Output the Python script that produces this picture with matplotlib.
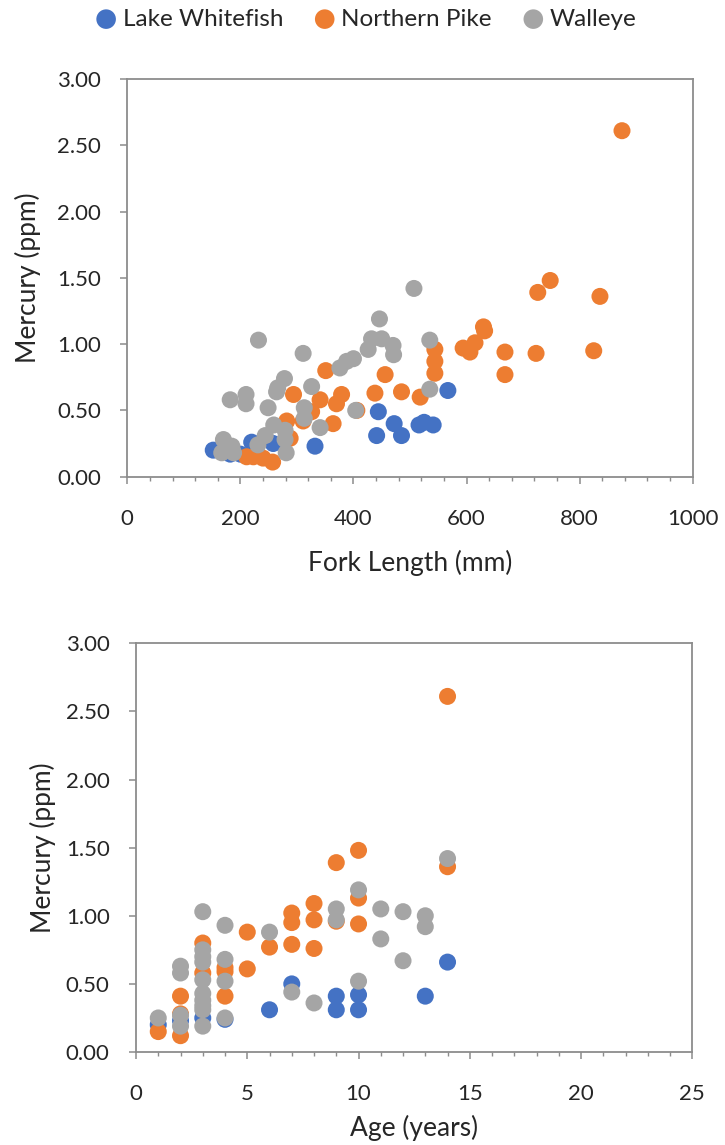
import numpy as np
import matplotlib
matplotlib.use('Agg')
import matplotlib.pyplot as plt
from matplotlib.ticker import MultipleLocator, FormatStrFormatter

plt.rcParams['font.family'] = ['Lato', 'DejaVu Sans']

species = ['Lake Whitefish', 'Northern Pike', 'Walleye']
colors = ['#4472C4', '#ED7D31', '#A5A5A5']

# fork length (mm) vs mercury (ppm)
lw_len = [152, 182, 200, 220, 258, 332, 444, 441, 472, 485, 516, 525, 541, 567]
lw_hg1 = [0.20, 0.17, 0.17, 0.26, 0.25, 0.23, 0.49, 0.31, 0.40, 0.31, 0.39, 0.41, 0.39, 0.65]
np_len = [211, 223, 240, 257, 282, 288, 294, 311, 326, 341, 351, 364, 370, 379, 406, 438, 456, 485,
          518, 544, 544, 544, 594, 606, 615, 630, 632, 668, 668, 723, 726, 748, 825, 836, 875]
np_hg1 = [0.15, 0.15, 0.14, 0.11, 0.42, 0.29, 0.62, 0.42, 0.49, 0.58, 0.80, 0.40, 0.55, 0.62, 0.50, 0.63, 0.77, 0.64,
          0.60, 0.96, 0.87, 0.78, 0.97, 0.94, 1.01, 1.13, 1.10, 0.94, 0.77, 0.93, 1.39, 1.48, 0.95, 1.36, 2.61]
wa_len = [170, 167, 185, 188, 182, 210, 210, 232, 231, 244, 249, 259, 264, 266, 278, 279, 279, 281,
          311, 313, 313, 326, 341, 376, 388, 400, 404, 426, 432, 446, 450, 470, 471, 507, 535, 535]
wa_hg1 = [0.28, 0.18, 0.23, 0.18, 0.58, 0.62, 0.55, 1.03, 0.24, 0.31, 0.52, 0.39, 0.64, 0.67, 0.74, 0.35, 0.28, 0.18,
          0.93, 0.52, 0.44, 0.68, 0.37, 0.82, 0.87, 0.89, 0.50, 0.96, 1.04, 1.19, 1.04, 0.99, 0.92, 1.42, 1.03, 0.66]

# age (years) vs mercury (ppm)
lw_age = [1, 2, 3, 4, 6, 7, 9, 9, 10, 10, 13, 14]
lw_hg2 = [0.20, 0.23, 0.25, 0.24, 0.31, 0.50, 0.41, 0.31, 0.42, 0.31, 0.41, 0.66]
np_age = [1, 2, 2, 2, 3, 3, 4, 4, 4, 5, 5, 6, 7, 7, 7, 8, 8, 8, 9, 9, 10, 10, 10, 14, 14]
np_hg2 = [0.15, 0.41, 0.28, 0.12, 0.80, 0.58, 0.62, 0.59, 0.41, 0.88, 0.61, 0.77, 1.02, 0.95, 0.79,
          1.09, 0.97, 0.76, 1.39, 0.96, 1.48, 1.13, 0.94, 2.61, 1.36]
wa_age = [1, 2, 2, 2, 2, 3, 3, 3, 3, 3, 3, 3, 3, 3, 3, 4, 4, 4, 4, 6, 7, 8, 9, 9, 10, 10,
          11, 11, 12, 12, 13, 13, 14]
wa_hg2 = [0.25, 0.63, 0.58, 0.27, 0.19, 1.03, 0.75, 0.70, 0.66, 0.53, 0.43, 0.38, 0.34, 0.31, 0.19,
          0.93, 0.68, 0.52, 0.25, 0.88, 0.44, 0.36, 1.05, 0.97, 1.19, 0.52, 1.05, 0.83, 1.03, 0.67, 1.00, 0.92, 1.42]

axis_grey = '#8C8C8C'


def StyleAxes(ax, xmax, xmajor, xminor, xlabel, xlab_y, ylab_x):
    ax.set_xlim(0, xmax)
    ax.set_ylim(0, 3)
    ax.xaxis.set_major_locator(MultipleLocator(xmajor))
    ax.xaxis.set_minor_locator(MultipleLocator(xminor))
    ax.yaxis.set_major_locator(MultipleLocator(0.5))
    ax.yaxis.set_major_formatter(FormatStrFormatter('%.2f'))
    for s in ax.spines.values():
        s.set_color(axis_grey)
        s.set_linewidth(1.3)
    ax.tick_params(which='major', direction='out', length=5, width=1.1, color=axis_grey,
                   labelsize=16, labelcolor='#262626')
    ax.tick_params(which='minor', direction='out', length=3, width=1.0, color=axis_grey)
    ax.tick_params(axis='x', which='major', pad=18)
    ax.tick_params(axis='y', which='major', pad=14)
    ax.set_xlabel(xlabel, fontsize=19, color='#262626', va='center')
    ax.set_ylabel('Mercury (ppm)', fontsize=19, color='#262626', va='center')
    ax.xaxis.set_label_coords(0.5, xlab_y)
    ax.yaxis.set_label_coords(ylab_x, 0.5)


fig = plt.figure(figsize=(7.25, 11.45), dpi=100)

ax1 = fig.add_axes([0.1756, 0.5837, 0.7798, 0.3473])
for xs, ys, name, c in zip([lw_len, np_len, wa_len], [lw_hg1, np_hg1, wa_hg1], species, colors):
    ax1.scatter(xs, ys, s=150, color=c, edgecolors='none', label=name, zorder=3, clip_on=False)
StyleAxes(ax1, 1000, 200, 40, 'Fork Length (mm)', -0.217, -0.176)

ax2 = fig.add_axes([0.1876, 0.0812, 0.7673, 0.3570])
for xs, ys, name, c in zip([lw_age, np_age, wa_age], [lw_hg2, np_hg2, wa_hg2], species, colors):
    ax2.scatter(xs, ys, s=150, color=c, edgecolors='none', label=name, zorder=3, clip_on=False)
StyleAxes(ax2, 25, 5, 1, 'Age (years)', -0.186, -0.167)

fig.legend(*ax1.get_legend_handles_labels(), loc='center', bbox_to_anchor=(0.504, 1 - 19 / 1145),
           ncol=3, frameon=False, fontsize=17.5, handletextpad=0.19, columnspacing=1.2,
           handlelength=1.0, scatterpoints=1, markerscale=1.15, labelcolor='#262626')

fig.savefig('out.png', dpi=100)
